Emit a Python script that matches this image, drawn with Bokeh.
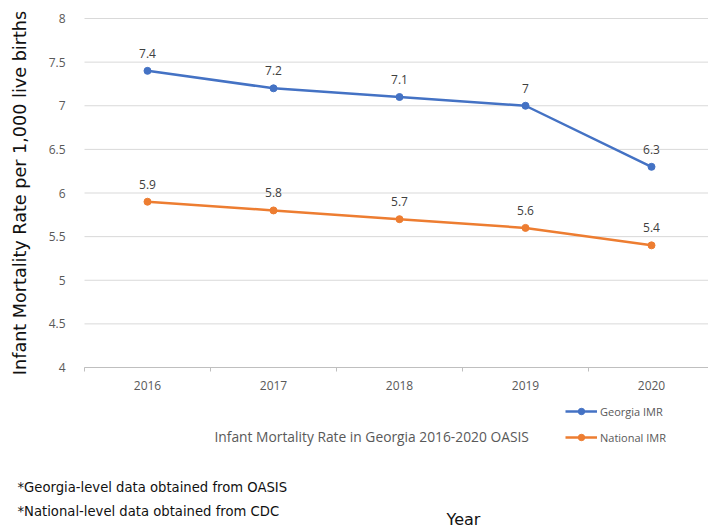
from bokeh.plotting import figure
from bokeh.models import (ColumnDataSource, LabelSet, Label, Legend, LegendItem,
                          FixedTicker, Range1d)
from bokeh.core.properties import value
from bokeh.embed import file_html
from bokeh.resources import INLINE

years = [2016, 2017, 2018, 2019, 2020]
georgia_imr = [7.4, 7.2, 7.1, 7.0, 6.3]
national_imr = [5.9, 5.8, 5.7, 5.6, 5.4]
georgia_text = ["7.4", "7.2", "7.1", "7", "6.3"]
national_text = ["5.9", "5.8", "5.7", "5.6", "5.4"]
y_ticks = [4, 4.5, 5, 5.5, 6, 6.5, 7, 7.5, 8]
y_tick_labels = ["4", "4.5", "5", "5.5", "6", "6.5", "7", "7.5", "8"]
x_tick_labels = ["2016", "2017", "2018", "2019", "2020"]
series_names = ["Georgia IMR", "National IMR"]
chart_caption = "Infant Mortality Rate in Georgia 2016-2020 OASIS"
source_notes = ["*Georgia-level data obtained from OASIS",
                "*National-level data obtained from CDC"]
x_title = "Year"
y_title = "Infant Mortality Rate per 1,000 live births"

BLUE = "#4472C4"
ORANGE = "#ED7D31"
GRAY = "#595959"
FONT = "Open Sans"
FONT2 = "DejaVu Sans"

# ---- layout geometry (page pixels) ----
W, H = 708, 528
OX, OY = 0, 1                   # where the canvas lands on the page
PLOT_L, PLOT_R = 84, 714         # plot-area left / right (category bounds)
PLOT_T, PLOT_B = 19, 368         # plot-area top / bottom

x_lo, x_hi = years[0] - 0.5, years[-1] + 0.5
y_lo, y_hi = y_ticks[0], y_ticks[-1]
pxx = (PLOT_R - PLOT_L) / (x_hi - x_lo)
pxy = (PLOT_B - PLOT_T) / (y_hi - y_lo)

def dx(px):
    return x_lo + (px - PLOT_L) / pxx

def dy(py):
    return y_lo - (py - PLOT_B) / pxy

src = ColumnDataSource(dict(year=years, ga=georgia_imr, nat=national_imr,
                            ga_t=georgia_text, nat_t=national_text))

p = figure(width=W, height=H, output_backend="svg", toolbar_location=None,
           x_range=Range1d(dx(OX), dx(OX + W)),
           y_range=Range1d(dy(OY + H), dy(OY)),
           min_border=0, outline_line_color=None)
p.grid.visible = False

# horizontal gridlines across the plot area only
p.segment(x0=x_lo, x1=x_hi, y0=y_ticks, y1=y_ticks, line_color="#D9D9D9",
          line_width=1, level="underlay")

# y axis
p.yaxis.fixed_location = x_lo
p.yaxis.bounds = (y_lo, y_hi)
p.yaxis.ticker = FixedTicker(ticks=y_ticks)
p.yaxis.major_label_overrides = {t: l for t, l in zip(y_ticks, y_tick_labels)}
p.yaxis.axis_line_color = None
p.yaxis.major_tick_line_color = None
p.yaxis.minor_tick_line_color = None
p.yaxis.major_label_text_font = FONT
p.yaxis.major_label_text_font_size = "12px"
p.yaxis.major_label_text_color = GRAY
p.yaxis.major_label_standoff = 13
p.yaxis.axis_label = y_title
p.yaxis.axis_label_text_font = FONT2
p.yaxis.axis_label_text_font_size = "17.6px"
p.yaxis.axis_label_text_font_style = "normal"
p.yaxis.axis_label_text_color = "#111111"
p.yaxis.axis_label_standoff = 16

# x axis
p.xaxis.fixed_location = y_lo
p.xaxis.bounds = (x_lo, x_hi)
p.xaxis.ticker = FixedTicker(ticks=years,
                             minor_ticks=[y - 0.5 for y in years] + [x_hi])
p.xaxis.major_label_overrides = {t: l for t, l in zip(years, x_tick_labels)}
p.xaxis.axis_line_color = "#BFBFBF"
p.xaxis.major_tick_line_color = None
p.xaxis.major_tick_out = 0
p.xaxis.major_tick_in = 0
p.xaxis.minor_tick_line_color = "#BFBFBF"
p.xaxis.minor_tick_out = 4
p.xaxis.minor_tick_in = 0
p.xaxis.major_label_text_font = FONT
p.xaxis.major_label_text_font_size = "12px"
p.xaxis.major_label_text_color = GRAY
p.xaxis.major_label_standoff = 9

# series
gl = p.line("year", "ga", source=src, line_color=BLUE, line_width=2.5)
gm = p.scatter("year", "ga", source=src, size=7, fill_color=BLUE, line_color=BLUE)
nl = p.line("year", "nat", source=src, line_color=ORANGE, line_width=2.5)
nm = p.scatter("year", "nat", source=src, size=7, fill_color=ORANGE, line_color=ORANGE)

for col, tcol in (("ga", "ga_t"), ("nat", "nat_t")):
    p.add_layout(LabelSet(x="year", y=col, text=tcol, source=src, y_offset=13,
                          text_align="center", text_baseline="bottom",
                          text_font=value(FONT), text_font_size="12px",
                          text_color="#404040"))

# legend under the chart, right side
legend = Legend(items=[LegendItem(label=series_names[0], renderers=[gl, gm]),
                       LegendItem(label=series_names[1], renderers=[nl, nm])],
                location=(565 - OX, OY + H - 448), glyph_width=32, glyph_height=16,
                label_height=20, spacing=6, padding=0, margin=0, label_standoff=3,
                label_text_font=FONT, label_text_font_size="11px",
                label_text_color=GRAY, background_fill_alpha=0,
                border_line_color=None)
p.add_layout(legend, "center")

# (text, left px, centre px, size, font, colour) in page pixels
notes = [
    (chart_caption, 214, 437, "13.8px", FONT, GRAY),
    (source_notes[0], 17, 488, "13.2px", FONT2, "#111111"),
    (source_notes[1], 17, 512, "13.2px", FONT2, "#111111"),
    (x_title, 446, 520, "16px", FONT2, "#111111"),
]
for txt, px, py, fs, fnt, c in notes:
    p.add_layout(Label(x=dx(px), y=dy(py), text=txt, text_font=fnt,
                       text_font_size=fs, text_color=c, text_baseline="middle",
                       text_align="left"))

open("out.html", "w").write(file_html(p, INLINE))
